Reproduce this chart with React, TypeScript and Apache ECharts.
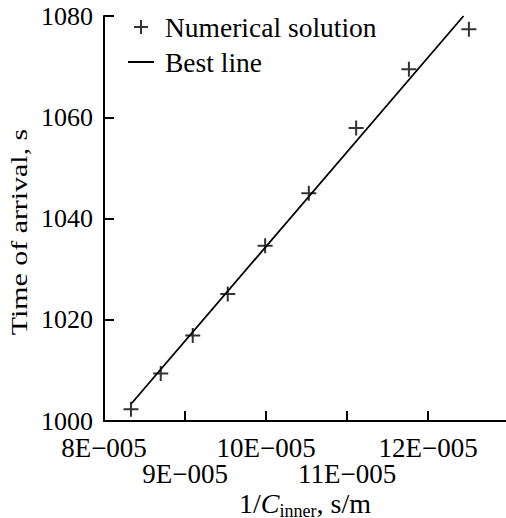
import React, { useEffect, useRef } from "react";
import * as echarts from "echarts";

// x values in units of 1E-005 s/m
const pointX = [8.333, 8.7, 9.095, 9.527, 9.988, 10.527, 11.111, 11.762, 12.502];
const pointY = [1002.3, 1009.4, 1016.9, 1025.1, 1034.6, 1045.0, 1057.9, 1069.5, 1077.4];
const lineX = [8.342, 12.436];
const lineY = [1003.5, 1080];
const seriesNames = ["Numerical solution", "Best line"];
const xMin = 8;
const xMax = 12.96;
const xStep = 1;
const yTitle = "Time of arrival, s";

const FONT = "'Liberation Serif', 'Times New Roman', serif";
const PLUS = "path://M7,0L7,14M0,7L14,7";
const DASH = "path://M0,0L0.05,0L0.05,0.05L0,0.05ZM0,6.1L26,6.1L26,7.9L0,7.9ZM25.95,13.95L26,13.95L26,14L25.95,14Z";

const tickText = (v: number) => `${Math.round(v)}E\u2212005`;

export default function App() {
  const ref = useRef<HTMLDivElement>(null);
  useEffect(() => {
    if (!ref.current) return;
    const chart = echarts.init(ref.current, null, { renderer: "svg" });
    const labelBase = {
      fontFamily: FONT,
      fontSize: 27,
      color: "#000",
      showMinLabel: true,
      showMaxLabel: false,
      hideOverlap: false,
    };
    chart.setOption({
      animation: false,
      textStyle: { fontFamily: FONT, color: "#000" },
      grid: { left: 104, top: 16, right: 0, bottom: 97, containLabel: false, outerBoundsMode: "none" },
      legend: {
        orient: "vertical",
        left: 123,
        top: 8,
        itemWidth: 26,
        itemHeight: 14,
        itemGap: 7,
        textStyle: { fontFamily: FONT, fontSize: 27.5, color: "#000", padding: [0, 0, 0, 6] },
        data: [
          { name: seriesNames[0], icon: PLUS, itemStyle: { color: "transparent", borderColor: "#000", borderWidth: 2 } },
          { name: seriesNames[1], icon: DASH, itemStyle: { color: "#000", borderWidth: 0 } },
        ],
      },
      graphic: [
        {
          type: "text",
          x: 19,
          y: 232,
          rotation: Math.PI / 2,
          scaleX: 1.3,
          scaleY: 1,
          style: {
            text: yTitle,
            fontFamily: FONT,
            fontSize: 23,
            fill: "#000",
            align: "center",
            verticalAlign: "middle",
          },
        },
      ],
      xAxis: [
        {
          type: "value",
          min: xMin,
          max: xMax,
          interval: xStep,
          splitLine: { show: false },
          axisLine: { lineStyle: { color: "#000", width: 2 } },
          axisTick: { inside: true, length: 10, lineStyle: { color: "#000", width: 2 } },
          axisLabel: {
            ...labelBase,
            margin: 13,
            formatter: (v: number) => (Math.round(v) % 2 === 0 ? tickText(v) : ""),
          },
          name: "{n|1/}{i|C}{s|inner}{n|, s/m}",
          nameLocation: "middle",
          nameGap: 68,
          nameTextStyle: {
            fontFamily: FONT,
            rich: {
              n: { fontFamily: FONT, fontSize: 28, color: "#000", lineHeight: 28 },
              i: { fontFamily: FONT, fontSize: 28, fontStyle: "italic", color: "#000", lineHeight: 28 },
              s: { fontFamily: FONT, fontSize: 18, color: "#000", lineHeight: 28, verticalAlign: "bottom", padding: [0, 0, -3, 0] },
            },
          },
        },
        {
          type: "value",
          position: "bottom",
          min: xMin,
          max: xMax,
          interval: xStep,
          splitLine: { show: false },
          axisLine: { show: false },
          axisTick: { show: false },
          axisLabel: {
            ...labelBase,
            margin: 39,
            formatter: (v: number) => (Math.round(v) % 2 === 1 ? tickText(v) : ""),
          },
        },
      ],
      yAxis: {
        type: "value",
        min: 1000,
        max: 1080,
        interval: 20,
        splitLine: { show: false },
        axisLine: { lineStyle: { color: "#000", width: 2 } },
        axisTick: { inside: true, length: 10, lineStyle: { color: "#000", width: 2 } },
        axisLabel: {
          fontFamily: FONT,
          fontSize: 26,
          color: "#000",
          margin: 11,
          showMinLabel: true,
          showMaxLabel: true,
          hideOverlap: false,
          formatter: (v: number) => String(Math.round(v)),
        },
      },
      series: [
        {
          name: seriesNames[0],
          type: "scatter",
          xAxisIndex: 0,
          symbol: PLUS,
          symbolSize: 15,
          itemStyle: { color: "transparent", borderColor: "#000", borderWidth: 2 },
          data: pointX.map((x, i) => [x, pointY[i]]),
          z: 3,
        },
        {
          name: seriesNames[1],
          type: "line",
          xAxisIndex: 0,
          symbol: "none",
          lineStyle: { color: "#000", width: 1.8 },
          itemStyle: { color: "#000" },
          data: lineX.map((x, i) => [x, lineY[i]]),
          z: 2,
        },
      ],
    });
    return () => chart.dispose();
  }, []);
  return <div ref={ref} style={{ position: "absolute", left: 0, top: 0, width: 506, height: 518 }} />;
}
